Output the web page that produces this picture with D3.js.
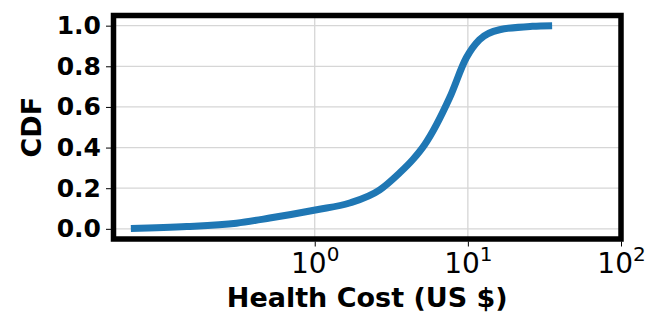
<!DOCTYPE html>
<html>
<head>
<meta charset="utf-8">
<script src="https://d3js.org/d3.v7.min.js"></script>
<style>
body { margin: 0; background: #fff; }
text { font-family: "DejaVu Sans", sans-serif; }
</style>
</head>
<body>
<script>
// health cost CDF
var costs = [0.063, 0.146, 0.308, 0.508, 1.03, 1.69, 2.66, 3.58, 4.36, 5.22, 7.6, 9.77, 11.9, 16.1, 26.4, 35.5];
var cdf   = [0.002, 0.011, 0.028, 0.053, 0.094, 0.127, 0.192, 0.275, 0.34, 0.414, 0.645, 0.842, 0.931, 0.98, 0.997, 1.0];
var yTicks = [0, 0.2, 0.4, 0.6, 0.8, 1.0];
var xTicks = [1, 10, 100];
var xExp = ["0", "1", "2"];

var data = costs.map((c, i) => { return {x: c, y: cdf[i]}; });

var width = 664, height = 332;
var plotLeft = 113.5, plotRight = 621, plotTop = 15.5, plotBottom = 239;

var svg = d3.select("body").append("svg")
	.attr("width", width)
	.attr("height", height);

var x = d3.scaleLog()
	.domain([Math.pow(10, -1.314), 100])
	.range([plotLeft, plotRight]);

var y = d3.scaleLinear()
	.domain([-0.05, 1.05])
	.range([plotBottom, plotTop]);

// grid
svg.append("g").selectAll("line")
	.data(yTicks).enter().append("line")
	.attr("x1", plotLeft).attr("x2", plotRight)
	.attr("y1", (d) => y(d)).attr("y2", (d) => y(d))
	.attr("stroke", "#d6d6d6").attr("stroke-width", 1.3);

svg.append("g").selectAll("line")
	.data(xTicks).enter().append("line")
	.attr("x1", (d) => x(d)).attr("x2", (d) => x(d))
	.attr("y1", plotTop).attr("y2", plotBottom)
	.attr("stroke", "#d6d6d6").attr("stroke-width", 1.3);

// curve
var line = d3.line()
	.x((d) => x(d.x))
	.y((d) => y(d.y))
	.curve(d3.curveMonotoneX);

svg.append("path")
	.datum(data)
	.attr("d", line)
	.attr("fill", "none")
	.attr("stroke", "#1f77b4")
	.attr("stroke-width", 7);

// axes
var leftAxis = d3.axisLeft(y).tickValues(yTicks).tickSize(5).tickPadding(5)
	.tickFormat(d3.format(".1f"));
var gy = svg.append("g")
	.attr("transform", "translate(" + (plotLeft - 2.5) + ",0)")
	.call(leftAxis);
gy.select(".domain").remove();
gy.selectAll("text")
	.attr("font-size", "25px")
	.attr("font-weight", "bold")
	.attr("font-family", "DejaVu Sans")
	.attr("fill", "#000");

var bottomAxis = d3.axisBottom(x).tickValues(xTicks).tickSize(5).tickFormat("");
var gx = svg.append("g")
	.attr("transform", "translate(0," + (plotBottom + 2.5) + ")")
	.call(bottomAxis);
gx.select(".domain").remove();
gx.selectAll(".tick").append("text")
	.attr("y", 31)
	.attr("text-anchor", "middle")
	.attr("fill", "#000")
	.attr("font-family", "DejaVu Sans")
	.attr("font-size", "28px")
	.each(function(d, i) {
		var t = d3.select(this);
		t.append("tspan").text("10");
		t.append("tspan").attr("dy", -12).attr("font-size", "20px").text(xExp[i]);
	});

// frame
svg.append("rect")
	.attr("x", plotLeft).attr("y", plotTop)
	.attr("width", plotRight - plotLeft).attr("height", plotBottom - plotTop)
	.attr("fill", "none")
	.attr("stroke", "#000")
	.attr("stroke-width", 5.5);

// labels
svg.append("text")
	.attr("x", (plotLeft + plotRight) / 2)
	.attr("y", 307)
	.attr("text-anchor", "middle")
	.attr("font-size", "27px")
	.attr("font-weight", "bold")
	.text("Health Cost (US $)");

svg.append("text")
	.attr("transform", "translate(41," + ((plotTop + plotBottom) / 2) + ") rotate(-90)")
	.attr("text-anchor", "middle")
	.attr("font-size", "27px")
	.attr("font-weight", "bold")
	.text("CDF");
</script>
</body>
</html>
